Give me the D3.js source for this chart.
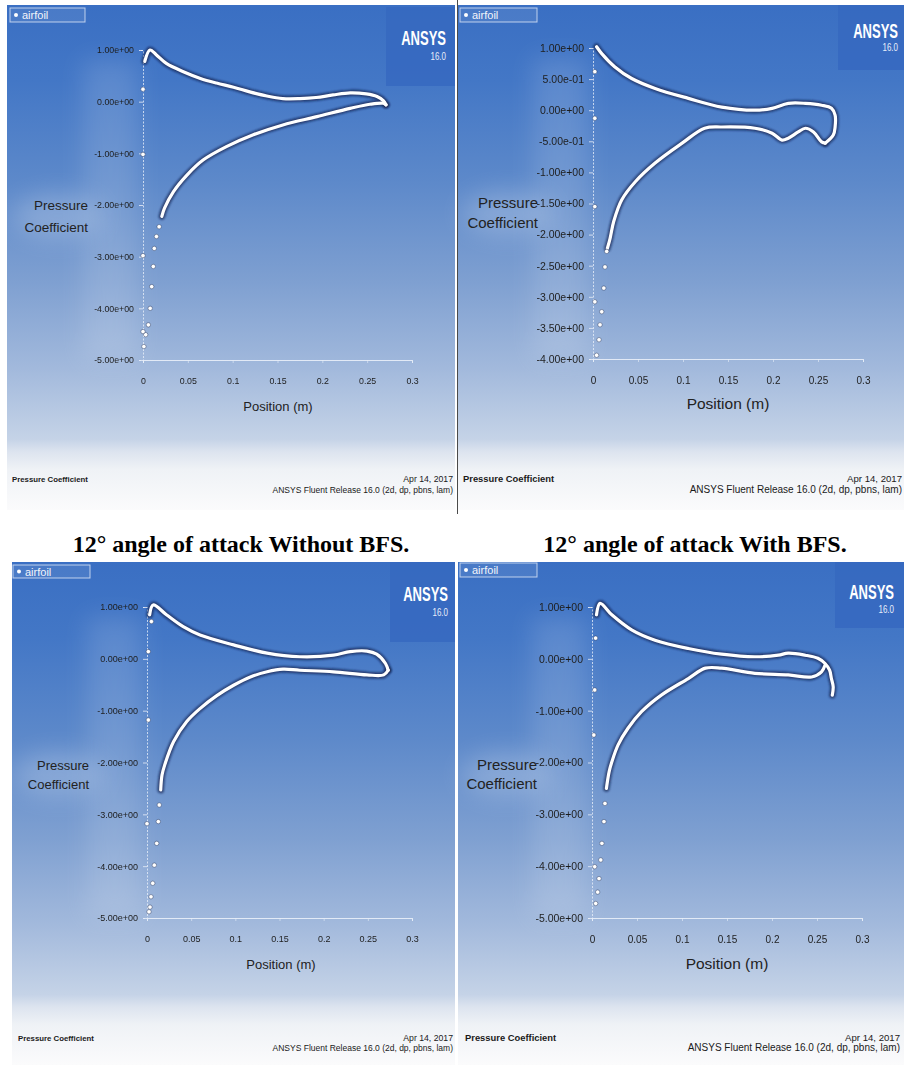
<!DOCTYPE html>
<html><head><meta charset="utf-8">
<script src="https://cdn.jsdelivr.net/npm/d3@7"></script>
<style>
html,body{margin:0;padding:0;background:#fff;}
svg{display:block;}
</style></head><body>
<svg id="fig" width="904" height="1065"></svg>
<script>
// Shared tick values
const xTicks = [0, 0.05, 0.1, 0.15, 0.2, 0.25, 0.3];
const yTicksUnit = [1, 0, -1, -2, -3, -4, -5];
const yTicksHalf = [1, 0.5, 0, -0.5, -1, -1.5, -2, -2.5, -3, -3.5, -4];

// Captions under the top row
const captions = ["12\u00B0 angle of attack Without BFS.", "12\u00B0 angle of attack With BFS."];

// Pressure coefficient along the airfoil, [position (m), Cp]
// Panel A: 12 deg, without BFS
const aUpper = [[0.002,0.78],[0.0078,1.00],[0.0153,0.90],[0.026,0.74],[0.045,0.58],[0.064,0.45],[0.082,0.36],[0.101,0.28],[0.119,0.19],[0.138,0.11],[0.156,0.06],[0.175,0.06],[0.193,0.08],[0.212,0.13],[0.231,0.17],[0.249,0.15],[0.261,0.10],[0.268,0.02],[0.271,-0.06]];
const aLower = [[0.021,-2.22],[0.024,-2.06],[0.034,-1.74],[0.049,-1.42],[0.067,-1.13],[0.093,-0.87],[0.123,-0.64],[0.156,-0.45],[0.194,-0.29],[0.231,-0.13],[0.253,-0.05],[0.268,-0.03],[0.271,-0.06]];
const aPeak = [[0.001,-4.74],[0.003,-4.51],[0.006,-4.32],[0.008,-4.00],[0.0097,-3.58],[0.0115,-3.19],[0.0126,-2.84],[0.015,-2.61],[0.018,-2.42]];
const aAxis = [[0,0.24],[0,-1.02],[0,-2.98],[0,-4.45]];

// Panel B: 12 deg, with BFS
const bUpper = [[0.004,1.02],[0.0097,0.91],[0.024,0.70],[0.043,0.51],[0.069,0.35],[0.106,0.19],[0.143,0.05],[0.180,0.00],[0.199,0.03],[0.217,0.11],[0.236,0.11],[0.254,0.08],[0.265,0.03],[0.269,-0.08],[0.269,-0.27],[0.267,-0.40],[0.258,-0.53]];
const bLower = [[0.016,-2.22],[0.019,-2.06],[0.023,-1.79],[0.032,-1.44],[0.047,-1.15],[0.069,-0.85],[0.099,-0.53],[0.124,-0.29],[0.143,-0.27],[0.180,-0.29],[0.199,-0.37],[0.210,-0.48],[0.217,-0.45],[0.228,-0.35],[0.236,-0.29],[0.245,-0.35],[0.254,-0.51],[0.258,-0.53]];
const bPeak = [[0.004,-3.94],[0.0067,-3.69],[0.0078,-3.45],[0.0097,-3.24],[0.012,-2.86],[0.0133,-2.52],[0.0152,-2.27]];
const bAxis = [[0.002,0.62],[0.002,-0.13],[0.002,-1.55],[0.002,-3.08]];

// Panel C
const cUpper = [[0.003,0.85],[0.007,1.04],[0.022,0.85],[0.041,0.62],[0.060,0.46],[0.098,0.27],[0.136,0.11],[0.173,0.04],[0.211,0.07],[0.230,0.14],[0.249,0.15],[0.260,0.09],[0.270,-0.09],[0.273,-0.22]];
const cLower = [[0.0155,-2.53],[0.017,-2.24],[0.020,-2.05],[0.030,-1.60],[0.045,-1.21],[0.060,-0.96],[0.079,-0.71],[0.098,-0.51],[0.117,-0.35],[0.136,-0.25],[0.154,-0.20],[0.173,-0.22],[0.211,-0.25],[0.249,-0.31],[0.268,-0.31],[0.273,-0.22]];
const cPeak = [[0.0139,-2.82],[0.0128,-3.14],[0.011,-3.56],[0.0083,-3.98],[0.0065,-4.33],[0.0045,-4.59],[0.0034,-4.79],[0.0023,-4.88]];
const cAxis = [[0.005,0.72],[0.0015,0.14],[0.0015,-1.18],[0,-3.18]];

// Panel D
const dUpper = [[0.005,0.85],[0.009,1.07],[0.022,0.85],[0.044,0.56],[0.070,0.36],[0.107,0.20],[0.144,0.09],[0.181,0.04],[0.207,0.07],[0.218,0.11],[0.237,0.07],[0.251,0.01],[0.259,-0.09],[0.264,-0.22],[0.266,-0.38],[0.268,-0.54],[0.267,-0.70]];
const dLower = [[0.016,-2.50],[0.019,-2.18],[0.022,-1.99],[0.029,-1.66],[0.040,-1.34],[0.055,-1.02],[0.077,-0.70],[0.107,-0.38],[0.126,-0.18],[0.144,-0.18],[0.181,-0.28],[0.218,-0.31],[0.244,-0.35],[0.255,-0.25],[0.259,-0.12]];
const dPeak = [[0.0144,-2.79],[0.0133,-3.14],[0.011,-3.56],[0.0097,-3.88],[0.0078,-4.24],[0.0063,-4.50],[0.0041,-4.72]];
const dAxis = [[0.004,0.40],[0.003,-0.60],[0.002,-1.47],[0.003,-4.01]];

// Panel layouts (geometry and type sizes)
const panels = [
  { box:[7,5,448,505], xr:[143,412], yd:[-5,1], yr:[360,50], yt:yTicksUnit,
    upper:aUpper, lower:aLower, peak:aPeak, axisPts:aAxis,
    legend:[10,8,75,14], logo:[386,7,69,79,446,45,60],
    title:[88,210,232,13.5], ytf:8.8, xtf:8.8, xpad:15,
    pos:[278,411,13], foot:[12,453,482,493,7.8,8.7,8.5] },
  { box:[458,5,446,505], xr:[593,863], yd:[-4,1], yr:[359,48], yt:yTicksHalf,
    upper:bUpper, lower:bLower, peak:bPeak, axisPts:bAxis,
    legend:[460,8,77,14], logo:[838,5,66,65,898,38,51],
    title:[538,208,228,15], ytf:10.5, xtf:10, xpad:15,
    pos:[728,409,15.5], foot:[463,902,482,493,9.4,9.6,10] },
  { box:[12,562,443,503], xr:[147,412], yd:[-5,1], yr:[918,607], yt:yTicksUnit,
    upper:cUpper, lower:cLower, peak:cPeak, axisPts:cAxis,
    legend:[13,565,77,13], logo:[390,562,65,80,448,601,616],
    title:[89,770,789,13], ytf:9, xtf:9, xpad:15,
    pos:[281,969,13], foot:[18,453,1041,1051,7.8,8.7,8.5] },
  { box:[458,562,446,503], xr:[592,862], yd:[-5,1], yr:[918,607], yt:yTicksUnit,
    upper:dUpper, lower:dLower, peak:dPeak, axisPts:dAxis,
    legend:[460,563,77,14], logo:[835,562,69,66,894,599,613],
    title:[537,770,789,15], ytf:10.5, xtf:10, xpad:15,
    pos:[727,969,15.5], foot:[465,900,1041,1051,9.4,9.6,10] }
];

const SANS = "'Liberation Sans', Arial, Helvetica, sans-serif";
const svg = d3.select("#fig");
const defs = svg.append("defs");

const grad = defs.append("linearGradient").attr("id","bg").attr("x1",0).attr("y1",0).attr("x2",0).attr("y2",1);
[[0,"#3a6fc3"],[0.15,"#4377c6"],[0.35,"#5d89ca"],[0.55,"#7fa0d1"],[0.72,"#a2b9dc"],[0.86,"#c5d3e7"],[0.885,"#dde4ef"],[0.92,"#eff2f6"],[1,"#fbfbfc"]]
  .forEach(([o,c]) => grad.append("stop").attr("offset",o).attr("stop-color",c));

defs.append("filter").attr("id","haze").attr("x","-50%").attr("y","-50%").attr("width","200%").attr("height","200%")
  .append("feGaussianBlur").attr("stdDeviation",12);
defs.append("filter").attr("id","soft").attr("x","-10%").attr("y","-10%").attr("width","120%").attr("height","120%")
  .append("feGaussianBlur").attr("stdDeviation",0.9);
defs.append("filter").attr("id","textsoft")
  .append("feGaussianBlur").attr("stdDeviation",0.35);

// exponent format with two-digit exponent, e.g. 1.00e+00
const expFmt = v => {
  const s = (Math.abs(v) < 1e-12 ? 0 : v).toExponential(2);
  return s.replace(/e([+-])(\d)$/, "e$10$2");
};

panels.forEach(p => {
  const g = svg.append("g");
  const [bx,by,bw,bh] = p.box;
  g.append("rect").attr("x",bx).attr("y",by).attr("width",bw).attr("height",bh).attr("fill","url(#bg)");

  const x = d3.scaleLinear().domain([0,0.3]).range(p.xr);
  const y = d3.scaleLinear().domain(p.yd).range(p.yr);

  // light haze behind the axis labels
  g.append("rect").attr("x",p.xr[0]-60).attr("y",p.yr[1]+10).attr("width",55).attr("height",p.yr[0]-p.yr[1]-10)
    .attr("fill","#ffffff").attr("opacity",0.13).attr("filter","url(#haze)");
  g.append("ellipse").attr("cx",p.title[0]-30).attr("cy",(p.title[1]+p.title[2])/2-5).attr("rx",45).attr("ry",22)
    .attr("fill","#ffffff").attr("opacity",0.2).attr("filter","url(#haze)");

  // logo block
  const [lx,ly,lw,lh,lr,lb1,lb2] = p.logo;
  g.append("rect").attr("x",lx).attr("y",ly).attr("width",lw).attr("height",lh).attr("fill","#3668bf").attr("opacity",0.85);
  g.append("text").attr("transform",`translate(${lr},${lb1}) scale(0.62,1)`).attr("text-anchor","end")
    .attr("font-family",SANS).attr("font-weight","bold").attr("font-size",21).attr("fill","#ffffff").text("ANSYS");
  g.append("text").attr("transform",`translate(${lr},${lb2}) scale(0.8,1)`).attr("text-anchor","end")
    .attr("font-family",SANS).attr("font-size",10).attr("fill","#e8eefa").text("16.0");

  // legend box
  const [gx,gy,gw,gh] = p.legend;
  g.append("rect").attr("x",gx).attr("y",gy).attr("width",gw).attr("height",gh)
    .attr("fill","#ffffff").attr("fill-opacity",0.08).attr("stroke","#dfe8f8").attr("stroke-opacity",0.8);
  g.append("circle").attr("cx",gx+6).attr("cy",gy+gh/2).attr("r",2).attr("fill","#ffffff");
  g.append("text").attr("x",gx+12).attr("y",gy+gh/2+4).attr("font-family",SANS).attr("font-size",11)
    .attr("fill","#f2f5fb").text("airfoil");

  // axes
  const ya = d3.axisLeft(y).tickValues(p.yt).tickFormat(expFmt).tickSize(4).tickPadding(5);
  const yg = g.append("g").attr("transform",`translate(${p.xr[0]},0)`).call(ya);
  yg.select(".domain").attr("stroke","#eef3fb").attr("stroke-opacity",0.75).attr("stroke-dasharray","2,1.5");
  yg.selectAll(".tick line").attr("stroke","#e8eef8").attr("stroke-opacity",0.8);
  yg.selectAll(".tick text").attr("font-family",SANS).attr("font-size",p.ytf).attr("fill","#1e1e1e").attr("filter","url(#textsoft)");

  const xa = d3.axisBottom(x).tickValues(xTicks).tickFormat(d3.format("~g")).tickSize(3).tickPadding(p.xpad);
  const xg = g.append("g").attr("transform",`translate(0,${p.yr[0]})`).call(xa);
  xg.select(".domain").attr("stroke","#f2f6fc").attr("stroke-opacity",0.8);
  xg.selectAll(".tick line").attr("stroke","#e8eef8").attr("stroke-opacity",0.6);
  xg.selectAll(".tick text").attr("font-family",SANS).attr("font-size",p.xtf).attr("fill","#1e1e1e").attr("filter","url(#textsoft)");

  // axis titles
  g.append("text").attr("x",p.title[0]).attr("y",p.title[1]).attr("text-anchor","end").attr("font-family",SANS)
    .attr("font-size",p.title[3]).attr("fill","#222").text("Pressure");
  g.append("text").attr("x",p.title[0]).attr("y",p.title[2]).attr("text-anchor","end").attr("font-family",SANS)
    .attr("font-size",p.title[3]).attr("fill","#222").text("Coefficient");
  g.append("text").attr("x",p.pos[0]).attr("y",p.pos[1]).attr("text-anchor","middle").attr("font-family",SANS)
    .attr("font-size",p.pos[2]).attr("fill","#222").text("Position (m)");

  // footer
  const [fl,fr,fy1,fy2,fs1,fs2,fs3] = p.foot;
  g.append("text").attr("x",fl).attr("y",fy1).attr("font-family",SANS).attr("font-weight","bold").attr("font-size",fs1)
    .attr("fill","#1a1a1a").text("Pressure Coefficient");
  g.append("text").attr("x",fr).attr("y",fy1).attr("text-anchor","end").attr("font-family",SANS).attr("font-size",fs2)
    .attr("fill","#1a1a1a").text("Apr 14, 2017");
  g.append("text").attr("x",fr).attr("y",fy2).attr("text-anchor","end").attr("font-family",SANS).attr("font-size",fs3)
    .attr("fill","#1a1a1a").text("ANSYS Fluent Release 16.0 (2d, dp, pbns, lam)");

  // Cp curves
  const line = d3.line().x(d => x(d[0])).y(d => y(d[1])).curve(d3.curveCatmullRom.alpha(0.5));
  const curves = g.append("g");
  [p.upper, p.lower].forEach(s => {
    curves.append("path").attr("d",line(s)).attr("fill","none").attr("stroke","#10204a").attr("stroke-opacity",0.7)
      .attr("stroke-width",6.5).attr("stroke-linecap","round").attr("stroke-linejoin","round").attr("filter","url(#soft)");
  });
  [p.upper, p.lower].forEach(s => {
    curves.append("path").attr("d",line(s)).attr("fill","none").attr("stroke","#ffffff")
      .attr("stroke-width",3.2).attr("stroke-linecap","round").attr("stroke-linejoin","round");
  });
  curves.selectAll("circle.pk").data(p.peak.concat(p.axisPts)).join("circle").attr("class","pk")
    .attr("cx",d => x(d[0])).attr("cy",d => y(d[1])).attr("r",2.2)
    .attr("fill","#ffffff").attr("stroke","#14244c").attr("stroke-opacity",0.5).attr("stroke-width",0.8);
});

// divider between the two upper panels
svg.append("line").attr("x1",457.5).attr("x2",457.5).attr("y1",0).attr("y2",514).attr("stroke","#4a4a4a").attr("stroke-width",1);

// captions
const SERIF = "'Liberation Serif', 'Times New Roman', serif";
svg.append("text").attr("x",241).attr("y",552).attr("text-anchor","middle").attr("font-family",SERIF)
  .attr("font-weight","bold").attr("font-size",24).attr("fill","#000").text(captions[0]);
svg.append("text").attr("x",695).attr("y",552).attr("text-anchor","middle").attr("font-family",SERIF)
  .attr("font-weight","bold").attr("font-size",24).attr("fill","#000").text(captions[1]);
</script>
</body></html>
